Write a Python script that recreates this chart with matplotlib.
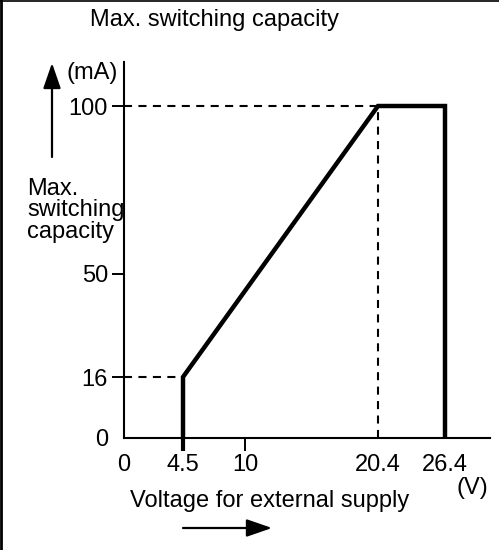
import numpy as np
import matplotlib
matplotlib.use("Agg")
import matplotlib.pyplot as plt
from matplotlib.lines import Line2D

plt.rcParams["font.family"] = ["Liberation Sans", "DejaVu Sans"]
plt.rcParams["lines.scale_dashes"] = False

# Characteristic curve: max. switching capacity vs. external supply voltage
voltage = [4.5, 4.5, 20.4, 26.4, 26.4]          # V
capacity = [0, 16, 100, 100, 0]                  # mA

x_ticks = [0, 4.5, 10, 20.4, 26.4]
x_tick_labels = ["0", "4.5", "10", "20.4", "26.4"]
y_ticks = [0, 16, 50, 100]
y_tick_labels = ["0", "16", "50", "100"]

# The drawing is a schematic: axes are piecewise-linear, not to scale
x_knots = [0, 4.5, 10, 20.4, 26.4, 30.1, 100]
x_pos = [0, 59, 121, 254, 321, 366, 366 + 69.9 * 12.2]
y_knots = [0, 16, 50, 100, 113.1, 300]
y_pos = [0, 61, 164, 332, 376, 376 + 186.9 * 3.36]


def fx(v):
    return np.interp(v, x_knots, x_pos)


def fx_inv(p):
    return np.interp(p, x_pos, x_knots)


def fy(v):
    return np.interp(v, y_knots, y_pos)


def fy_inv(p):
    return np.interp(p, y_pos, y_knots)


W, H = 499, 550
fig = plt.figure(figsize=(W / 100, H / 100), dpi=100)
ax = fig.add_axes([124 / W, 112 / H, 366 / W, 376 / H])
ax.set_xscale("function", functions=(fx, fx_inv))
ax.set_yscale("function", functions=(fy, fy_inv))
ax.set_xlim(0, 30.1)
ax.set_ylim(0, 113.1)

for side in ("top", "right"):
    ax.spines[side].set_visible(False)
for side in ("left", "bottom"):
    ax.spines[side].set_linewidth(1.5)

FS = 17
ax.set_xticks(x_ticks)
ax.set_xticklabels(x_tick_labels, fontsize=FS)
ax.set_yticks(y_ticks)
ax.set_yticklabels(y_tick_labels, fontsize=FS)
ax.tick_params(axis="x", length=9.5, width=1.4, pad=2, direction="out")
ax.tick_params(axis="y", length=8.5, width=1.4, pad=3, direction="out")

# hide tick marks at the origin and where the curve/dashes meet the axis
xt = ax.xaxis.get_major_ticks()
xt[0].tick1line.set_visible(False)
xt[1].tick1line.set_markeredgewidth(3)
xt[3].tick1line.set_visible(False)
xt[4].tick1line.set_visible(False)
ax.yaxis.get_major_ticks()[0].tick1line.set_visible(False)

# reference dashed lines
dash = (0, (5.8, 4.6))
ax.plot([0, 20.4], [100, 100], color="black", lw=1.5, ls=dash)
ax.plot([0, 4.5], [16, 16], color="black", lw=1.5, ls=dash)
ax.plot([20.4, 20.4], [0, 100], color="black", lw=1.5, ls=dash)

# characteristic curve
ax.plot(voltage, capacity, color="black", lw=3.2,
        solid_joinstyle="miter", solid_capstyle="butt")

# titles and units
fig.text(215 / W, 1 - 26 / H, "Max. switching capacity", fontsize=FS,
         ha="center", va="baseline")
fig.text(118 / W, 1 - 79 / H, "(mA)", fontsize=FS, ha="right", va="baseline")
fig.text(488 / W, 1 - 494 / H, "(V)", fontsize=FS, ha="right", va="baseline")
fig.text(27 / W, 1 - 238 / H, "Max.\nswitching\ncapacity", fontsize=FS,
         ha="left", va="baseline", linespacing=0.98,
         multialignment="left")
fig.text(130 / W, 1 - 507 / H, "Voltage for external supply", fontsize=FS,
         ha="left", va="baseline")

# direction arrows
arrow_kw = dict(arrowstyle="-|>,head_length=1.3,head_width=0.45",
                color="black", lw=1.6, shrinkA=0, shrinkB=0)
fig.add_artist(matplotlib.patches.FancyArrowPatch(
    (52 / W, 1 - 157 / H), (52 / W, 1 - 63 / H),
    transform=fig.transFigure, mutation_scale=12, **arrow_kw))
fig.add_artist(matplotlib.patches.FancyArrowPatch(
    (183 / W, 1 - 528 / H), (272 / W, 1 - 528 / H),
    transform=fig.transFigure, mutation_scale=12, **arrow_kw))

# frame edges along the top and left
fig.add_artist(Line2D([1.2 / W, 1.2 / W], [0, 1], color="black", lw=2,
                      transform=fig.transFigure))
fig.add_artist(Line2D([0, 1], [1 - 0.6 / H, 1 - 0.6 / H], color="black",
                      lw=1.2, transform=fig.transFigure))

fig.savefig("out.png", dpi=100)
